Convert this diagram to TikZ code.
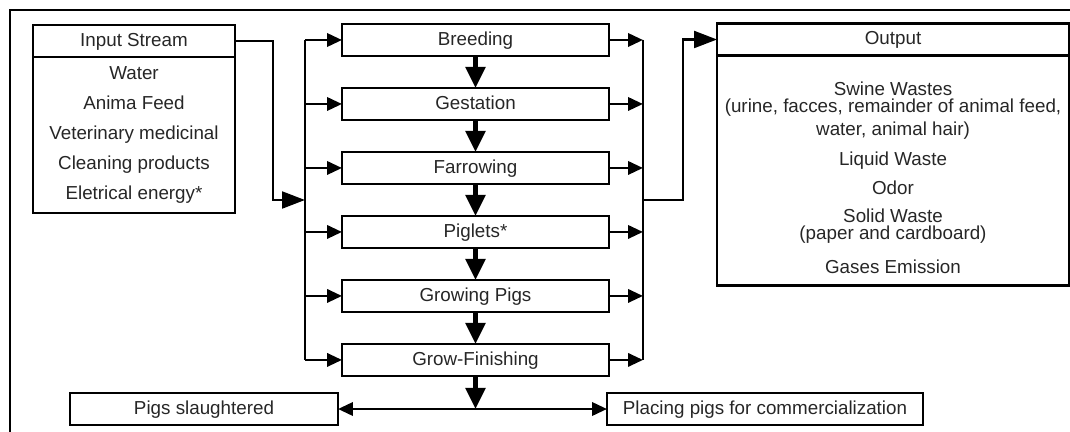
\documentclass[tikz,border=0pt]{standalone}
\usepackage{fontspec}
\setmainfont{Liberation Sans}
\usetikzlibrary{positioning, arrows.meta}
\tikzset{>={Triangle[length=8.5pt,width=7.5pt]}, node distance=1.28cm}

\begin{document}
\begin{tikzpicture}[x=0.02cm, y=-0.02cm,
    frame/.style={rectangle, draw, line width=1.6pt, outer sep=0pt, inner sep=0pt, text=black!85},
    box/.style={frame, minimum height=0.64cm, text height=0.7em, text depth=0.1em, font=\fontsize{10.7}{12.8}\selectfont},
    listbox/.style={frame, align=center},
    flow/.style={->, line width=1.6pt},
    feed/.style={-{Triangle[length=13pt,width=9.5pt]}, line width=1.6pt},
    drop/.style={-{Triangle[length=12pt,width=11pt]}, line width=2.6pt}]
    \useasboundingbox (0,0) rectangle (1070,432);
    \draw[line width=1.4pt] (10,460) -- (10,10) -- (1090,10);

    % input stream
    \node[box, minimum width=4.04cm] (input) at (134,41) {Input Stream};
    \node[listbox, minimum width=4.04cm, minimum height=3.12cm, below=0pt of input, font=\fontsize{10.7}{17}\selectfont] (inputlist) {Water\\Anima Feed\\Veterinary medicinal\\Cleaning products\\Eletrical energy*};

    % stages
    \node[box, minimum width=5.34cm] (breeding) at (475.5,40) {Breeding};
    \node[box, minimum width=5.34cm, below of=breeding] (gestation) {Gestation};
    \node[box, minimum width=5.34cm, below of=gestation] (farrowing) {Farrowing};
    \node[box, minimum width=5.34cm, below of=farrowing] (piglets) {Piglets*};
    \node[box, minimum width=5.34cm, below of=piglets] (growing) {Growing Pigs};
    \node[box, minimum width=5.34cm, below of=growing] (finishing) {Grow-Finishing};

    % output
    \node[box, minimum width=7.04cm] (output) at (893,39.5) {Output};
    \node[listbox, minimum width=7.04cm, minimum height=4.6cm, below=0pt of output, font=\fontsize{10.7}{9.6}\selectfont] (outputlist) {\rule{0pt}{0.57cm}Swine Wastes\\(urine, facces, remainder of animal feed,\\[1.8pt]water, animal hair)\\[6.2pt]Liquid Waste\\[5.4pt]Odor\\[6.8pt]Solid Waste\\(paper and cardboard)\\[8.2pt]Gases Emission};

    % destinations
    \node[box, minimum width=5.36cm] (slaughter) at (204,409) {Pigs slaughtered};
    \node[box, minimum width=6.32cm] (commerce) at (765,409) {Placing pigs for commercialization};

    \coordinate (inbus) at (305,200);
    \coordinate (outbus) at (643,200);
    \coordinate (split) at (finishing |- slaughter);

    \draw[feed] (input.east) -- ++(38,0) |- (inbus);
    \draw[line width=1.6pt] (inbus |- breeding) -- (inbus |- finishing);
    \draw[line width=1.6pt] (outbus |- breeding) -- (outbus |- finishing);
    \foreach \stage in {breeding, gestation, farrowing, piglets, growing, finishing} {
        \draw[flow] (inbus |- \stage) -- (\stage.west);
        \draw[flow] (\stage.east) -- (outbus |- \stage);
    }
    \draw[feed] (outbus) -- ++(40,0) |- (output.west);

    \foreach \from/\to in {breeding/gestation, gestation/farrowing, farrowing/piglets, piglets/growing, growing/finishing}
        \draw[drop] (\from) -- (\to);
    \draw[drop] (finishing) -- (split);
    \draw[flow] (split) -- (slaughter.east);
    \draw[flow] (split) -- (commerce.west);
\end{tikzpicture}
\end{document}
